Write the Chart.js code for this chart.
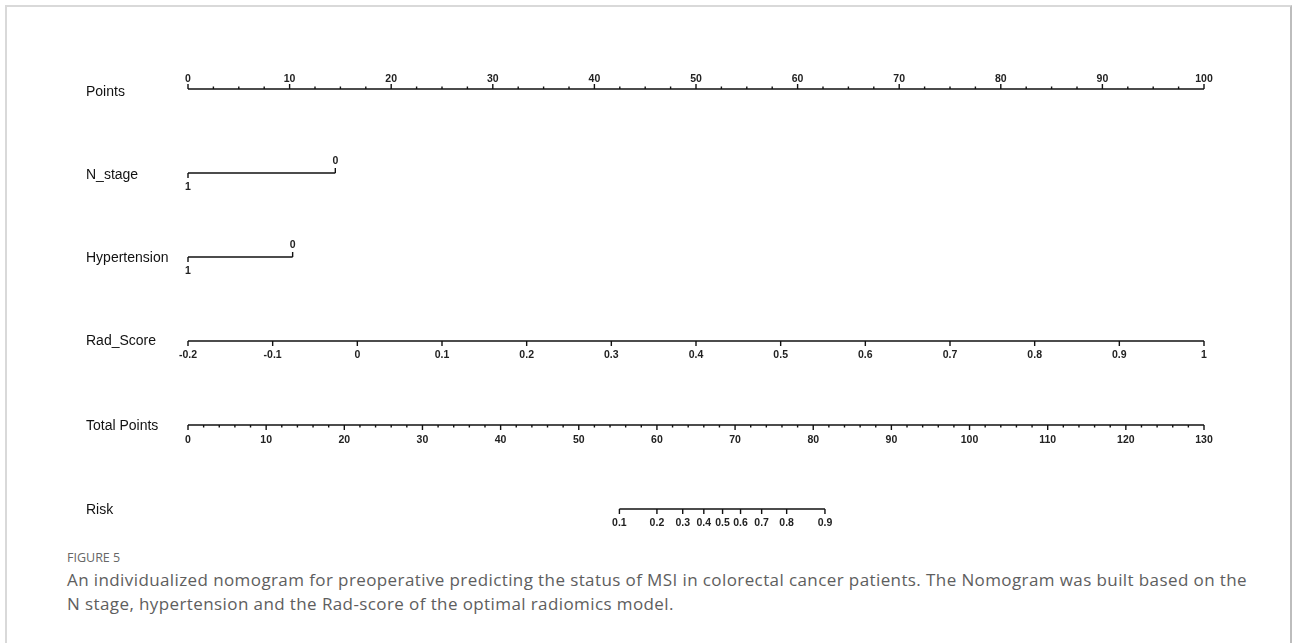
<!DOCTYPE html>
<html>
<head>
<meta charset="utf-8">
<script src="https://cdn.jsdelivr.net/npm/chart.js@4/dist/chart.umd.min.js"></script>
<style>
  html, body { margin:0; padding:0; background:#fff; }
  body { width:1292px; height:643px; position:relative; overflow:hidden; }
  #frame { position:absolute; left:5px; top:5px; width:1287px; height:660px; border:2px solid #d9d9d9; box-sizing:border-box; border-right-color:#bdbdbd; }
  #wrap { position:absolute; left:0; top:0; width:1292px; height:540px; }
  .figlabel { position:absolute; left:67px; top:549px; font-family:"Open Sans", Lato, sans-serif; font-size:12.5px; line-height:18px; color:#666; }
  .caption { position:absolute; left:67px; top:568px; font-family:"Open Sans", Lato, sans-serif; font-size:17px; line-height:24px; color:#5e5e5e; letter-spacing:0.4px; white-space:nowrap; }
</style>
</head>
<body>
<div id="frame"></div>
<div id="wrap"><canvas id="c" width="1292" height="540"></canvas></div>
<div class="figlabel">FIGURE 5</div>
<div class="caption">An individualized nomogram for preoperative predicting the status of MSI in colorectal cancer patients. The Nomogram was built based on the<br>N stage, hypertension and the Rad-score of the optimal radiomics model.</div>
<script>
// ---- data ----
const rowLabels = ['Points', 'N_stage', 'Hypertension', 'Rad_Score', 'Total Points', 'Risk'];
const pointsTicks = [0, 10, 20, 30, 40, 50, 60, 70, 80, 90, 100];
const pointsMinorStep = 2.5;
const nStageLevels = ['1', '0'];
const nStagePoints = [0, 14.5];
const hypertensionLevels = ['1', '0'];
const hypertensionPoints = [0, 10.3];
const radScoreTicks = [-0.2, -0.1, 0, 0.1, 0.2, 0.3, 0.4, 0.5, 0.6, 0.7, 0.8, 0.9, 1];
const totalPointsTicks = [0, 10, 20, 30, 40, 50, 60, 70, 80, 90, 100, 110, 120, 130];
const totalMinorStep = 2;
const riskTicks = [0.1, 0.2, 0.3, 0.4, 0.5, 0.6, 0.7, 0.8, 0.9];
const riskTotalPoints = [55.2, 60.0, 63.3, 66.0, 68.4, 70.7, 73.4, 76.6, 81.5];

// ---- helpers ----
const PX = 1 / 84; // y units per pixel (rows are 84px apart)
function lineData(x0, x1, row) { return [{x: x0, y: row}, {x: x1, y: row}]; }
function tickData(xs, row, lenPx) {
  const out = [];
  xs.forEach(v => { out.push({x: v, y: row}); out.push({x: v, y: row + lenPx * PX}); out.push({x: v, y: null}); });
  return out;
}
function minorList(max, step, majors) {
  const out = [];
  for (let v = 0; v <= max + 1e-9; v += step) {
    const r = Math.round(v * 100) / 100;
    if (!majors.some(m => Math.abs(m - r) < 1e-9)) out.push(r);
  }
  return out;
}
function ds(data, xAxisID, width) {
  return { type: 'line', data, xAxisID, yAxisID: 'y', borderColor: '#111', borderWidth: width || 1.4,
           pointRadius: 0, spanGaps: false, fill: false, tension: 0, clip: false };
}

const datasets = [
  // Points
  ds(lineData(0, 100, 0), 'xPts', 1.6),
  ds(tickData(pointsTicks, 0, -5), 'xPts', 1.4),
  ds(tickData(minorList(100, pointsMinorStep, pointsTicks), 0, -2.5), 'xPts', 1.4),
  // N_stage
  ds(lineData(nStagePoints[0], nStagePoints[1], 1), 'xPts', 1.4),
  ds(tickData([nStagePoints[0]], 1, 5), 'xPts', 1.4),
  ds(tickData([nStagePoints[1]], 1, -5), 'xPts', 1.4),
  // Hypertension
  ds(lineData(hypertensionPoints[0], hypertensionPoints[1], 2), 'xPts', 1.4),
  ds(tickData([hypertensionPoints[0]], 2, 5), 'xPts', 1.4),
  ds(tickData([hypertensionPoints[1]], 2, -5), 'xPts', 1.4),
  // Rad_Score
  ds(lineData(radScoreTicks[0], radScoreTicks[radScoreTicks.length - 1], 3), 'xRad', 1.5),
  ds(tickData(radScoreTicks, 3, 5), 'xRad', 1.4),
  // Total Points
  ds(lineData(0, 130, 4), 'xTot', 1.5),
  ds(tickData(totalPointsTicks, 4, 5), 'xTot', 1.4),
  ds(tickData(minorList(130, totalMinorStep, totalPointsTicks), 4, 2.5), 'xTot', 1.4),
  // Risk
  ds(lineData(riskTotalPoints[0], riskTotalPoints[riskTotalPoints.length - 1], 5), 'xTot', 1.5),
  ds(tickData(riskTotalPoints, 5, 5), 'xTot', 1.4)
];

const TICK_FONT = 'bold 10.5px "Liberation Sans", Arial, sans-serif';
const ROW_FONT = '14px "Liberation Sans", Arial, sans-serif';

const textPlugin = {
  id: 'nomoText',
  afterDatasetsDraw(chart) {
    const ctx = chart.ctx;
    const s = chart.scales;
    const y = v => s.y.getPixelForValue(v);
    ctx.save();
    ctx.fillStyle = '#111';
    ctx.textBaseline = 'middle';
    // row labels
    ctx.font = ROW_FONT;
    ctx.textAlign = 'left';
    const rowOffsets = [3, 2, 1, 0, 1, 1];
    rowLabels.forEach((lab, i) => ctx.fillText(lab, 86, y(i) + rowOffsets[i]));
    // tick labels
    ctx.font = TICK_FONT;
    ctx.fillStyle = '#222';
    ctx.textAlign = 'center';
    pointsTicks.forEach(v => ctx.fillText(String(v), s.xPts.getPixelForValue(v), y(0) - 10));
    ctx.fillText(nStageLevels[0], s.xPts.getPixelForValue(nStagePoints[0]), y(1) + 14);
    ctx.fillText(nStageLevels[1], s.xPts.getPixelForValue(nStagePoints[1]), y(1) - 12);
    ctx.fillText(hypertensionLevels[0], s.xPts.getPixelForValue(hypertensionPoints[0]), y(2) + 14);
    ctx.fillText(hypertensionLevels[1], s.xPts.getPixelForValue(hypertensionPoints[1]), y(2) - 12);
    radScoreTicks.forEach(v => ctx.fillText(String(v), s.xRad.getPixelForValue(v), y(3) + 14));
    totalPointsTicks.forEach(v => ctx.fillText(String(v), s.xTot.getPixelForValue(v), y(4) + 15));
    riskTicks.forEach((v, i) => ctx.fillText(String(v), s.xTot.getPixelForValue(riskTotalPoints[i]), y(5) + 14));
    ctx.restore();
  }
};

new Chart(document.getElementById('c'), {
  type: 'line',
  data: { datasets },
  options: {
    responsive: false,
    devicePixelRatio: 1,
    animation: false,
    events: [],
    layout: { padding: { left: 188, right: 88, top: 89, bottom: 31 } },
    plugins: { legend: { display: false }, tooltip: { enabled: false } },
    scales: {
      xPts: { type: 'linear', min: 0, max: 100, display: false },
      xRad: { type: 'linear', min: -0.2, max: 1, display: false },
      xTot: { type: 'linear', min: 0, max: 130, display: false },
      y: { type: 'linear', min: 0, max: 5, reverse: true, display: false }
    }
  },
  plugins: [textPlugin]
});
</script>
</body>
</html>
